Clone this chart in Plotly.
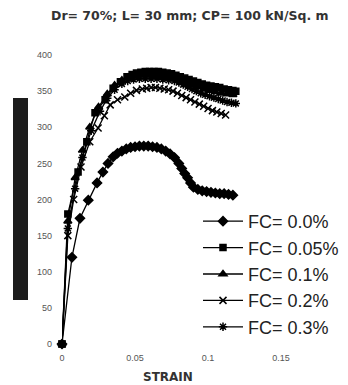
import plotly.graph_objects as go

title_text = "Dr= 70%; L= 30 mm; CP= 100 kN/Sq. m"
x_title = "STRAIN"
series_names = ["FC= 0.0%", "FC= 0.05%", "FC= 0.1%", "FC= 0.2%", "FC= 0.3%"]

strain_fc00 = [0, .0068, .0123, .018, .024, .028, .0315, .035, .038, .041, .044, .047, .050, .053, .056,
               .059, .062, .065, .068, .071, .074, .077, .080, .082, .084, .086, .088, .090, .093, .096,
               .099, .102, .105, .108, .111, .114, .117]
stress_fc00 = [0, 120, 174, 199, 223, 238, 250, 259, 264, 267, 270, 272, 273, 274, 274,
               274, 273, 272, 270, 267, 263, 258, 250, 243, 236, 230, 223, 217, 214, 212,
               211, 210, 209, 208, 208, 207, 206]

strain_fc005 = [0, .004, .011, .017, .0226, .0295, .035, .040, .0445, .048, .051, .054, .057, .060, .063,
                .066, .069, .072, .075, .078, .081, .084, .087, .090, .093, .096, .099, .102, .105,
                .108, .111, .114, .117, .119]
stress_fc005 = [0, 180, 238, 280, 320, 338, 354, 363, 370, 373, 375, 376, 377, 377, 377,
                377, 376, 375, 374, 372, 370, 368, 366, 364, 362, 360, 358, 357, 356,
                355, 353, 352, 351, 350]

strain_fc01 = [0, .004, .009, .014, .019, .025, .031, .036, .041, .045, .049, .053, .057, .061, .065,
               .069, .073, .077, .081, .085, .089, .093, .097, .101, .105, .109, .113, .117]
stress_fc01 = [0, 170, 230, 268, 300, 328, 346, 358, 365, 369, 371, 372, 372, 372, 371,
               370, 369, 367, 365, 362, 359, 356, 353, 351, 349, 347, 346, 345]

strain_fc02 = [0, .004, .008, .013, .019, .0247, .029, .033, .038, .043, .047, .051, .055, .058, .061,
               .064, .067, .070, .073, .076, .079, .082, .085, .088, .091, .094, .097, .100, .103,
               .106, .109, .112]
stress_fc02 = [0, 150, 200, 245, 280, 299, 316, 331, 338, 342, 347, 351, 353, 354, 355,
               355, 354, 353, 352, 350, 347, 344, 341, 338, 335, 332, 329, 326, 323,
               321, 319, 317]

strain_fc03 = [0, .004, .009, .014, .020, .026, .031, .036, .041, .045, .049, .053, .057, .061, .065,
               .069, .073, .077, .080, .083, .086, .089, .092, .095, .098, .101, .104, .107, .110,
               .113, .116, .119]
stress_fc03 = [0, 160, 215, 258, 295, 322, 340, 352, 360, 364, 366, 367, 367, 367, 367,
               366, 365, 364, 362, 359, 356, 353, 350, 347, 345, 343, 341, 339, 337,
               335, 334, 333]

x_tick_vals = [0, 0.05, 0.1, 0.15]
x_tick_text = ["0", "0.05", "0.1", "0.15"]
y_tick_vals = [0, 50, 100, 150, 200, 250, 300, 350, 400]

xs = [strain_fc00, strain_fc005, strain_fc01, strain_fc02, strain_fc03]
ys = [stress_fc00, stress_fc005, stress_fc01, stress_fc02, stress_fc03]
symbols = ["diamond", "square", "triangle-up", "x-thin", "asterisk"]
sizes = [7, 6, 7, 7, 7]

# page body has an 8px margin, so the figure is drawn 8px smaller and offset
OFF = 8
W, H = 348 - OFF, 385 - OFF
PL, PT = 62 - OFF, 55 - OFF          # plot-area left/top in figure px
PW, PH = 241, 289                    # plot-area size

fig = go.Figure()
for name, x, y, sym, sz in zip(series_names, xs, ys, symbols, sizes):
    fig.add_trace(go.Scatter(
        x=x, y=y, name=name, mode="lines+markers",
        line=dict(color="black", width=1.3),
        marker=dict(symbol=sym, size=sz, color="black", line=dict(color="black", width=1.5)),
        cliponaxis=False,
    ))

def px(xp):
    return (xp - 62) / PW

def py(yp):
    return (344 - yp) / PH

fig.update_layout(
    width=W, height=H,
    margin=dict(l=PL, r=W - PL - PW, t=PT, b=H - PT - PH, autoexpand=False),
    paper_bgcolor="white", plot_bgcolor="white",
    showlegend=True,
    legend=dict(x=px(198), y=py(203), xanchor="left", yanchor="top",
                font=dict(family="Liberation Sans, Arial", size=18, color="#222"),
                bgcolor="rgba(0,0,0,0)", itemwidth=40, tracegroupgap=0),
    xaxis=dict(range=[0, 0.165], tickvals=x_tick_vals, ticktext=x_tick_text,
               showgrid=False, zeroline=False, showline=False, ticks="",
               ticklabelstandoff=7,
               tickfont=dict(family="Liberation Sans, Arial", size=9, color="#555")),
    yaxis=dict(range=[0, 400], tickvals=y_tick_vals,
               showgrid=False, zeroline=False, showline=False, ticks="",
               ticklabelstandoff=9,
               tickfont=dict(family="Liberation Sans, Arial", size=9, color="#555")),
    annotations=[
        dict(text=title_text, xref="paper", yref="paper", x=px(190), y=py(15),
             xanchor="center", yanchor="middle", showarrow=False,
             font=dict(family="DejaVu Sans", size=12.5, color="#333", weight="bold")),
        dict(text=x_title, xref="paper", yref="paper", x=px(168), y=py(377),
             xanchor="center", yanchor="middle", showarrow=False,
             font=dict(family="DejaVu Sans", size=12, color="#333", weight="bold")),
    ],
    shapes=[
        dict(type="rect", xref="paper", yref="paper",
             x0=px(13), x1=px(28), y0=py(300), y1=py(98),
             fillcolor="#1c1c1c", line=dict(width=0), layer="above"),
    ],
)

fig.write_html("out.html")
